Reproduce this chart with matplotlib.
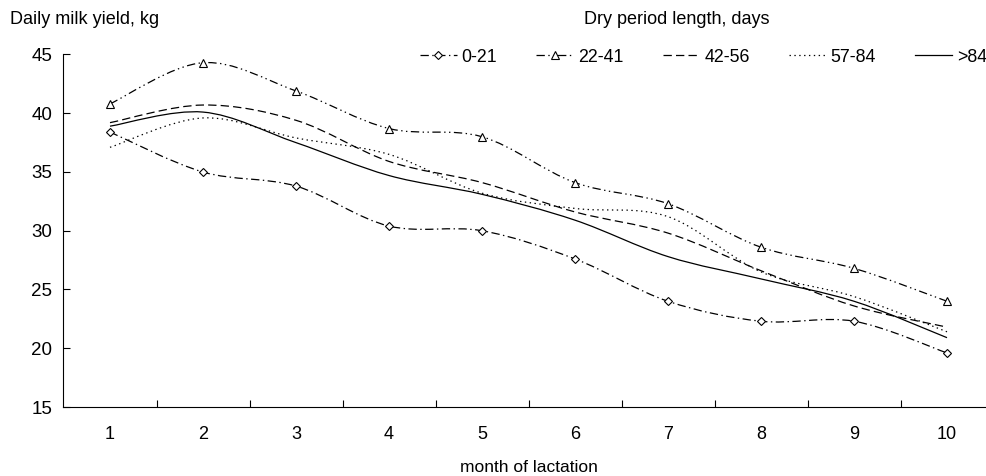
import numpy as np
import matplotlib
matplotlib.use('Agg')
import matplotlib.pyplot as plt
from matplotlib.path import Path
from matplotlib.patches import PathPatch
from matplotlib.lines import Line2D

plt.rcParams['font.family'] = ['Liberation Sans', 'DejaVu Sans']
plt.rcParams['lines.scale_dashes'] = False

months = [1, 2, 3, 4, 5, 6, 7, 8, 9, 10]
labels = ['0-21', '22-41', '42-56', '57-84', '>84']
y_0_21 = [38.4, 35.0, 33.8, 30.4, 30.0, 27.6, 24.0, 22.3, 22.3, 19.6]
y_22_41 = [40.8, 44.3, 41.9, 38.7, 38.0, 34.1, 32.3, 28.6, 26.8, 24.0]
y_42_56 = [39.2, 40.7, 39.4, 35.9, 34.1, 31.6, 29.8, 26.6, 23.6, 21.8]
y_57_84 = [37.1, 39.6, 37.9, 36.5, 33.2, 31.9, 31.2, 26.5, 24.4, 21.4]
y_84 = [38.9, 40.1, 37.5, 34.7, 33.1, 30.9, 27.8, 25.9, 24.0, 20.9]
series = [y_0_21, y_22_41, y_42_56, y_57_84, y_84]

styles = [(0, (6, 2.5, 1, 2.5)),
          (0, (6, 2.5, 1, 2.5, 1, 2.5)),
          (0, (6, 3)),
          (0, (1, 2.5)),
          '-']
markers = ['D', '^', None, None, None]
msizes = [4, 6, 0, 0, 0]


def smooth_path(x, y):
    # excel-like smoothed line: cubic bezier through the points
    p = np.column_stack([x, y]).astype(float)
    verts = [p[0]]
    codes = [Path.MOVETO]
    n = len(p)
    for i in range(n - 1):
        p0 = p[i - 1] if i > 0 else p[i]
        p3 = p[i + 2] if i + 2 < n else p[i + 1]
        c1 = p[i] + (p[i + 1] - p0) / 6
        c2 = p[i + 1] - (p3 - p[i]) / 6
        verts += [c1, c2, p[i + 1]]
        codes += [Path.CURVE4] * 3
    return Path(verts, codes)


fig = plt.figure(figsize=(9.87, 4.76), dpi=100)
ax = fig.add_axes([63.5 / 987, 1 - 407 / 476, 930 / 987, (407 - 54.5) / 476])

handles = []
for ys, ls, mk, ms, lab in zip(series, styles, markers, msizes, labels):
    ax.add_patch(PathPatch(smooth_path(months, ys), fill=False, edgecolor='black',
                           linewidth=0.9, linestyle=ls))
    if mk:
        ax.plot(months, ys, linestyle='none', marker=mk, markersize=ms,
                markerfacecolor='white', markeredgecolor='black', markeredgewidth=0.8)
    handles.append(Line2D([], [], color='black', linewidth=0.9, linestyle=ls,
                          marker=mk, markersize=ms, markerfacecolor='white',
                          markeredgecolor='black', markeredgewidth=0.8))

ax.set_xlim(0.5, 10.5)
ax.set_ylim(15, 45)
ax.set_yticks([15, 20, 25, 30, 35, 40, 45])
ax.set_xticks(np.arange(1.5, 10, 1))
ax.set_xticklabels([])
ax.set_xticks(months, minor=True)
ax.set_xticklabels([str(m) for m in months], minor=True)
ax.tick_params(axis='x', which='major', direction='in', length=5, width=0.8)
ax.tick_params(axis='x', which='minor', length=0, pad=14, labelsize=13)
ax.tick_params(axis='y', direction='in', length=5, width=0.8, pad=8, labelsize=13.5)
for s in ['top', 'right']:
    ax.spines[s].set_visible(False)
for s in ['left', 'bottom']:
    ax.spines[s].set_linewidth(0.8)

ax.set_xlabel('month of lactation', fontsize=12.5, labelpad=12)
fig.text(10 / 987, 1 - 20 / 476, 'Daily milk yield, kg', fontsize=13, va='center', ha='left')
fig.text(677 / 987, 1 - 20 / 476, 'Dry period length, days', fontsize=13, va='center', ha='center')

fig.legend(handles, labels, loc='center right', bbox_to_anchor=(1.0, 1 - 57 / 476),
           ncol=5, frameon=False, fontsize=12.8, handlelength=2.1, handletextpad=0.25,
           columnspacing=2.2, numpoints=1, borderaxespad=0, borderpad=0.0)

fig.savefig('out.png', dpi=100)
